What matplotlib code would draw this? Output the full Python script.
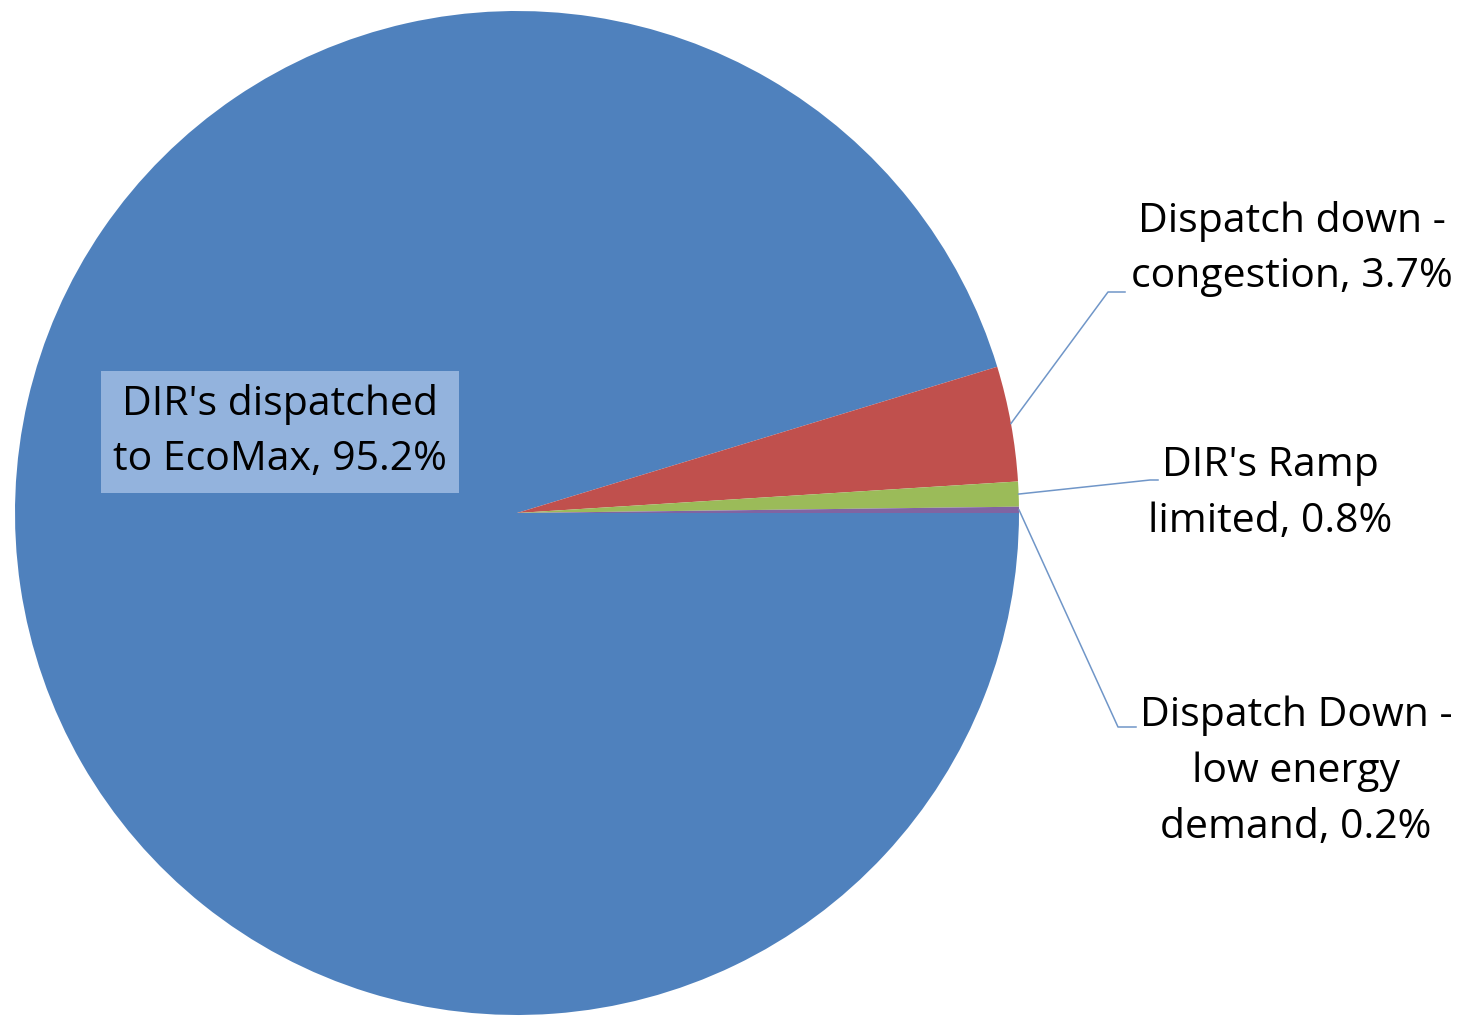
import numpy as np
import matplotlib
matplotlib.use("Agg")
import matplotlib.pyplot as plt

labels = ["DIR's dispatched\nto EcoMax", "Dispatch down -\ncongestion", "DIR's Ramp\nlimited", "Dispatch Down -\nlow energy\ndemand"]
values = [95.2, 3.7, 0.8, 0.2]
colors = ["#4F81BD", "#C0504D", "#9BBB59", "#8064A2"]

W, H = 1475, 1022
fig = plt.figure(figsize=(W / 100, H / 100), dpi=100)
ax = fig.add_axes([0, 0, 1, 1])

cx, cy, r = 517, H - 513, 502
wedges, _ = ax.pie(values, colors=colors, startangle=0, counterclock=False,
                   center=(cx, cy), radius=r, frame=True,
                   wedgeprops=dict(linewidth=0))
ax.set_xlim(0, W)
ax.set_ylim(0, H)
ax.set_aspect("equal")
ax.axis("off")

font = ["Open Sans", "DejaVu Sans"]
fs = 29.5
ls = 1.5
lc = "#7096C8"

def pct(v):
    return f"{v:.1f}%"

# main label inside box
ax.text(280, H - 432, f"{labels[0]}, {pct(values[0])}", ha="center", va="center",
        fontsize=fs, family=font, linespacing=ls, color="black",
        bbox=dict(boxstyle="square,pad=0.3", facecolor="#93B3DD", edgecolor="none"))

# outside labels: (elbow point, end point, text center)
layout = {
    1: ((1108, H - 292), (1125, H - 292), (1292, H - 249)),
    2: ((1150, H - 480), (1158, H - 480), (1270, H - 494)),
    3: ((1118, H - 727), (1136, H - 727), (1296, H - 772)),
}
for i, (elbow, end, tc) in layout.items():
    w = wedges[i]
    mid = np.deg2rad((w.theta1 + w.theta2) / 2)
    sx, sy = cx + r * np.cos(mid), cy + r * np.sin(mid)
    ax.plot([sx, elbow[0], end[0]], [sy, elbow[1], end[1]], color=lc, lw=1.1)
    ax.text(tc[0], tc[1], f"{labels[i]}, {pct(values[i])}", ha="center", va="center",
            fontsize=fs, family=font, linespacing=ls, color="black")

fig.savefig("out.png", dpi=100, facecolor="white")
